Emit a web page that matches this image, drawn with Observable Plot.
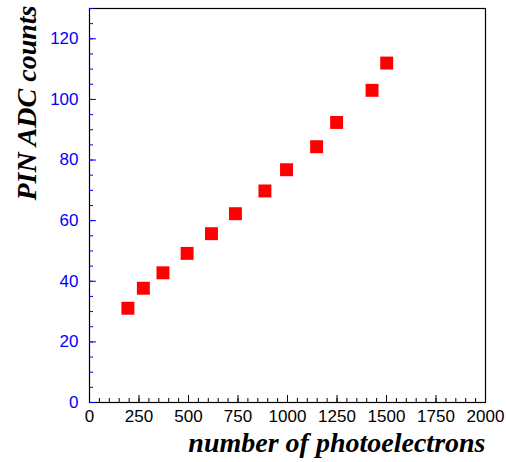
<!DOCTYPE html>
<html>
<head>
<meta charset="utf-8">
<script src="https://cdn.jsdelivr.net/npm/d3@7"></script>
<script src="https://cdn.jsdelivr.net/npm/@observablehq/plot@0.6"></script>
<style>
  html, body { margin: 0; padding: 0; background: #fff; }
</style>
</head>
<body>
<div id="chart"></div>
<script>
const photoelectrons = [194, 272, 371, 493, 616, 737, 886, 995, 1147, 1248, 1427, 1501];
const pinCounts = [31.1, 37.7, 42.8, 49.2, 55.7, 62.3, 69.8, 76.8, 84.4, 92.4, 103.0, 112.0];
const xMajorTicks = [0, 250, 500, 750, 1000, 1250, 1500, 1750, 2000];
const xMinorTicks = d3.range(0, 2001, 50);
const yMajorTicks = [0, 20, 40, 60, 80, 100, 120];
const yMinorTicks = d3.range(0, 131, 5);
const xTitle = "number of photoelectrons";
const yTitle = "PIN ADC counts";

const data = photoelectrons.map((x, i) => ({x, y: pinCounts[i]}));

const chart = Plot.plot({
  width: 506,
  height: 462,
  marginLeft: 89,
  marginRight: 21,
  marginTop: 8,
  marginBottom: 60,
  style: {fontFamily: "'Liberation Sans', Arial, sans-serif", fontSize: "17px", background: "white"},
  x: {domain: [0, 2000], label: null},
  y: {domain: [0, 130], label: null},
  marks: [
    Plot.frame({stroke: "black", strokeWidth: 1.2}),
    Plot.axisX({ticks: xMinorTicks, tickSize: -4, text: null, stroke: "black", label: null}),
    Plot.axisX({ticks: xMajorTicks, tickSize: -7, text: null, stroke: "black", label: null}),
    Plot.axisX({ticks: xMajorTicks, tickSize: 0, tickPadding: 7, tickFormat: d3.format("d"), fill: "black", label: null, fontSize: 17}),
    Plot.axisY({ticks: yMinorTicks, tickSize: -4, text: null, stroke: "blue", label: null}),
    Plot.axisY({ticks: yMajorTicks, tickSize: -7, text: null, stroke: "blue", label: null}),
    Plot.axisY({ticks: yMajorTicks, tickSize: 0, tickPadding: 11, tickFormat: d3.format("d"), fill: "blue", label: null, fontSize: 17}),
    Plot.dot(data, {x: "x", y: "y", symbol: "square", r: 7.3, fill: "#ff0000", stroke: "none"}),
    Plot.text([xTitle], {
      frameAnchor: "bottom-right", text: d => d, textAnchor: "end", lineAnchor: "bottom",
      dy: 49, fontFamily: "'Liberation Serif', 'Times New Roman', serif",
      fontWeight: "bold", fontStyle: "italic", fontSize: 28, fill: "black"
    }),
    Plot.text([yTitle], {
      frameAnchor: "top-left", text: d => d, textAnchor: "end", lineAnchor: "middle",
      rotate: -90, dx: -62, dy: -3, fontFamily: "'Liberation Serif', 'Times New Roman', serif",
      fontWeight: "bold", fontStyle: "italic", fontSize: 28, fill: "black"
    })
  ]
});
document.getElementById("chart").appendChild(chart);
</script>
</body>
</html>
